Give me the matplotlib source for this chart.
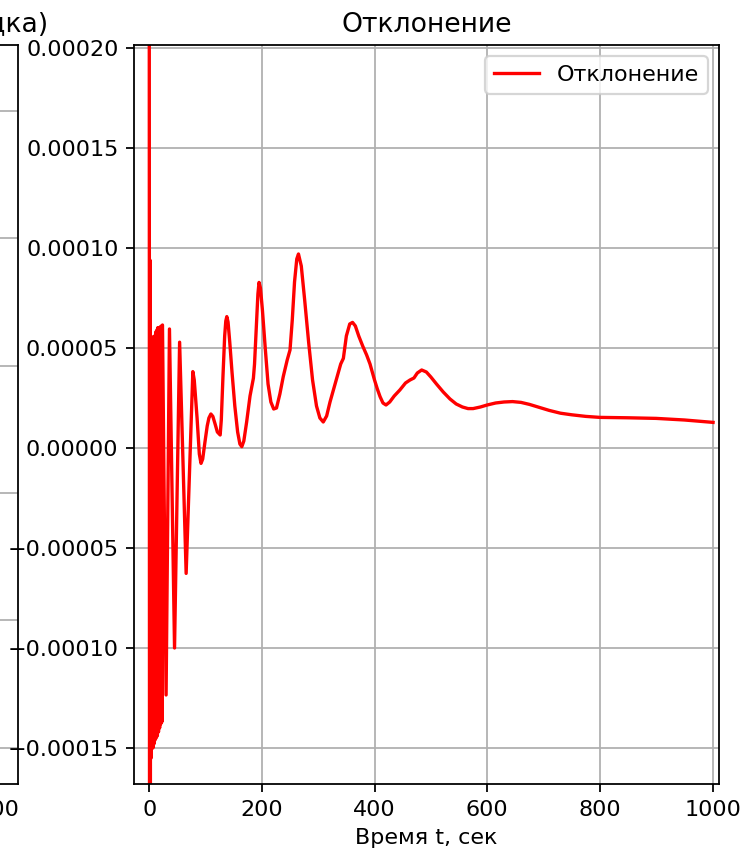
import matplotlib
matplotlib.use("Agg")
import matplotlib.pyplot as plt

# время t, сек
t = [0, 0.7, 1.4, 2.1, 2.8, 3.5, 4.2, 4.9, 5.6, 6.6, 7.6, 8.5, 9.5, 10.5,
     11.5, 12.5, 13.5, 14.5, 15.4, 16.5, 17.5, 18.5, 19.5, 20.5, 21.5, 22.5,
     23.6,
     30, 36, 45, 54, 65.6, 77.5, 80, 85, 89, 92, 95, 99, 103, 106, 109.5, 113,
     117, 121, 126, 128, 131, 134, 136, 137.8, 140, 143, 147, 152, 157, 161,
     164.4, 168, 173, 179, 185, 187, 190, 193, 195, 197.5, 201, 206, 211, 216,
     221, 226, 232, 238, 245, 250, 254, 258, 262, 265, 270, 276, 283, 290,
     297, 303, 309, 315, 321, 327, 334, 340, 344.7, 350, 356, 361, 366, 372,
     379, 386, 392, 400, 405, 409.8, 415, 420.4, 427, 435, 445, 455, 463, 470,
     476, 483.7, 492, 500, 510, 522, 534, 545, 556, 566, 575, 588, 600, 615,
     630, 645, 660, 675, 690, 710, 730, 750, 775, 800, 850, 900, 950, 1001]

# отклонение
dev = [3.5e-4, -3.0e-4, 9.4e-5, -1.75e-4, 5.4e-5, -1.55e-4, 5.5e-5, -1.5e-4,
       5.5e-5, -1.5e-4, 5.57e-5, -1.48e-4, 5.6e-5, -1.46e-4, 5.8e-5, -1.45e-4,
       5.9e-5, -1.44e-4, 6.02e-5, -1.42e-4, 6.0e-5, -1.4e-4, 6.05e-5, -1.38e-4,
       6.1e-5, -1.37e-4, 6.15e-5,
       -1.235e-4, 5.95e-5, -1.0e-4, 5.29e-5, -6.27e-5, 3.82e-5, 3.4e-5, 1.5e-5,
       -3e-6, -7.7e-6, -5.5e-6, 3e-6, 1.1e-5, 1.5e-5, 1.7e-5, 1.58e-5, 1.2e-5,
       8e-6, 6.5e-6, 1.4e-5, 3.6e-5, 5.6e-5, 6.35e-5, 6.57e-5, 6.3e-5, 5.3e-5,
       3.8e-5, 2.1e-5, 8e-6, 2e-6, 6.5e-7, 3.5e-6, 1.3e-5, 2.6e-5, 3.49e-5,
       4.2e-5, 6.0e-5, 7.7e-5, 8.28e-5, 8.0e-5, 6.9e-5, 5.0e-5, 3.2e-5, 2.3e-5,
       1.95e-5, 2.0e-5, 2.7e-5, 3.57e-5, 4.4e-5, 4.9e-5, 6.4e-5, 8.3e-5,
       9.45e-5, 9.7e-5, 9.1e-5, 7.4e-5, 5.3e-5, 3.4e-5, 2.1e-5, 1.5e-5, 1.3e-5,
       1.6e-5, 2.3e-5, 2.9e-5, 3.6e-5, 4.2e-5, 4.48e-5, 5.6e-5, 6.2e-5,
       6.28e-5, 6.1e-5, 5.6e-5, 5.1e-5, 4.65e-5, 4.2e-5, 3.4e-5, 2.95e-5,
       2.57e-5, 2.25e-5, 2.15e-5, 2.3e-5, 2.6e-5, 2.9e-5, 3.25e-5, 3.4e-5,
       3.5e-5, 3.75e-5, 3.9e-5, 3.8e-5, 3.55e-5, 3.2e-5, 2.8e-5, 2.45e-5,
       2.2e-5, 2.05e-5, 1.97e-5, 1.97e-5, 2.05e-5, 2.15e-5, 2.25e-5, 2.3e-5,
       2.32e-5, 2.28e-5, 2.18e-5, 2.05e-5, 1.88e-5, 1.74e-5, 1.66e-5, 1.58e-5,
       1.53e-5, 1.51e-5, 1.48e-5, 1.4e-5, 1.28e-5]

assert len(t) == len(dev)

# левый график (почти весь за кадром)
t_left = [0, 100, 200, 300, 400, 500, 600, 700, 800, 900, 1000]
y_left = [1.0, -1.4, 0.9, -0.8, 0.6, -0.4, 0.3, -0.2, 0.1, -0.05, 0.0]

fig = plt.figure(figsize=(751 / 160, 854 / 160), dpi=160)

ax1 = fig.add_axes([-0.755, 0.082, 0.7786, 0.8653])
ax1.plot(t_left, y_left, color="blue", label="Решение")
ax1.set_ylim(-1.6415, 1.2575)
ax1.set_title("Решение методом Рунге-Кутта (4-го порядка)")
ax1.set_xlabel("Время t, сек")
ax1.grid(True)

ax2 = fig.add_axes([0.1784, 0.082, 0.7786, 0.8653])
ax2.plot(t, dev, color="red", label="Отклонение")
ax2.set_xlim(-27, 1011)
ax2.set_ylim(-0.000168, 0.0002015)
ax2.set_title("Отклонение")
ax2.set_xlabel("Время t, сек")
ax2.legend(loc="upper right")
ax2.grid(True)

fig.savefig("out.png", dpi=160)
